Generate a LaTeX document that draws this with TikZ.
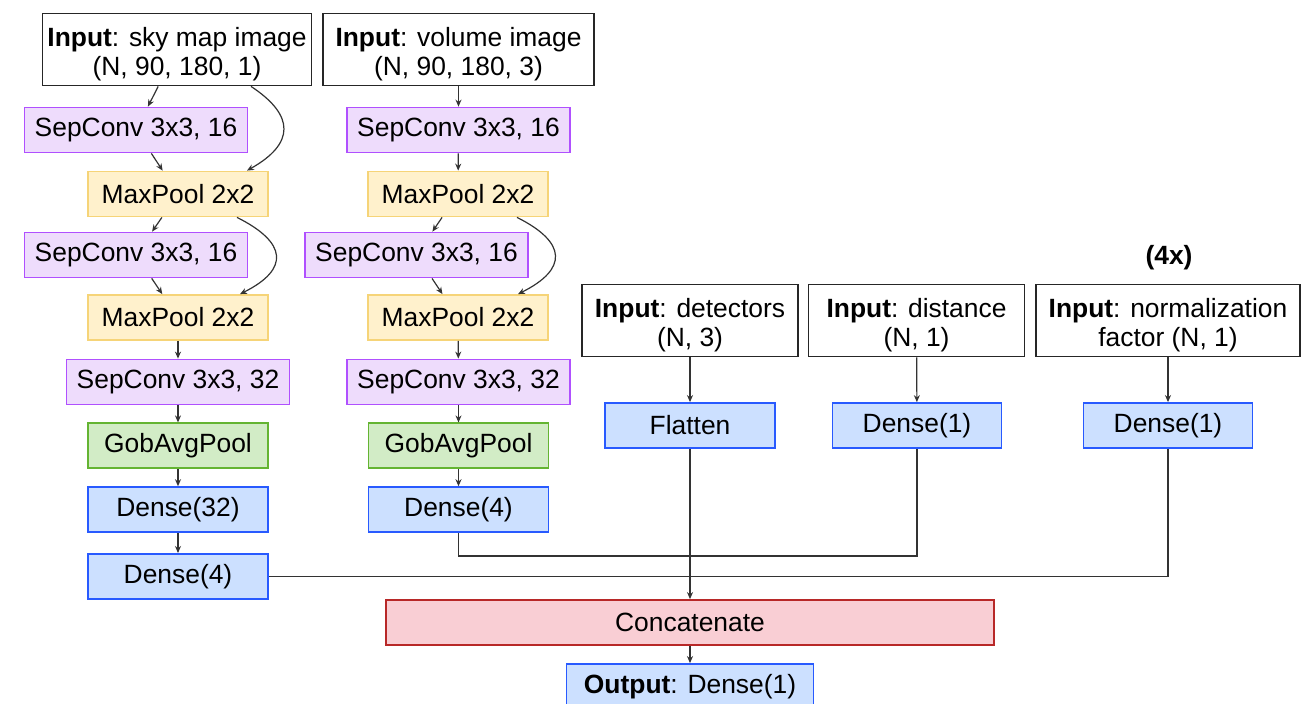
\documentclass[tikz,border=0pt]{standalone}
\usepackage{fontspec}
\setmainfont{Liberation Sans}
\usetikzlibrary{positioning,calc,arrows.meta}

\definecolor{convfill}{RGB}{238,220,252}
\definecolor{convline}{RGB}{176,80,255}
\definecolor{poolfill}{RGB}{255,241,204}
\definecolor{poolline}{RGB}{246,212,120}
\definecolor{gapfill}{RGB}{210,236,198}
\definecolor{gapline}{RGB}{100,180,50}
\definecolor{densefill}{RGB}{204,224,255}
\definecolor{denseline}{RGB}{40,90,255}
\definecolor{catfill}{RGB}{249,206,212}
\definecolor{catline}{RGB}{184,40,40}

\begin{document}
\begin{tikzpicture}[
    x=0.5pt, y=-0.5pt,
    node distance=8.5pt,
    layer/.style={rectangle, draw, line width=0.9pt, inner sep=0pt, minimum height=22.5pt, align=center, font=\fontsize{13.2}{14.5}\selectfont},
    inbox/.style={layer, fill=white, draw=black!85, minimum height=36pt},
    sepconv/.style={layer, fill=convfill, draw=convline, minimum width=111.5pt},
    maxpool/.style={layer, fill=poolfill, draw=poolline, minimum width=90pt},
    avgpool/.style={layer, fill=gapfill, draw=gapline, minimum width=90pt},
    dense/.style={layer, fill=densefill, draw=denseline, minimum width=90pt},
    concat/.style={layer, fill=catfill, draw=catline, minimum width=304pt},
    arrow/.style={-{Stealth[length=3.5pt,width=3pt]}, line width=0.6pt, black!80},
    link/.style={line width=0.6pt, black!80}
]
    \path[use as bounding box, fill=white] (0,0) rectangle (1312,703);

    % sky map branch
    \node[inbox, minimum width=134.5pt] (sky) at (177,49.5) {\rule{0pt}{14pt}\textbf{Input}: sky map image\\(N, 90, 180, 1)};
    \node[sepconv] (skyc1) at (136,130) {SepConv 3x3, 16};
    \node[maxpool] (skyp1) at (178,194) {MaxPool 2x2};
    \node[sepconv] (skyc2) at (136,255) {SepConv 3x3, 16};
    \node[maxpool] (skyp2) at (178,317.5) {MaxPool 2x2};
    \node[sepconv] (skyc3) at (178,382) {SepConv 3x3, 32};
    \node[avgpool, below=of skyc3] (skygap) {GobAvgPool};
    \node[dense, below=of skygap] (skyd1) {Dense(32)};
    \node[dense, below=10pt of skyd1] (skyd2) {Dense(4)};

    % volume branch
    \node[inbox, minimum width=135.5pt] (vol) at (458.5,49.5) {\rule{0pt}{14pt}\textbf{Input}: volume image\\(N, 90, 180, 3)};
    \node[sepconv] (volc1) at (458.5,130) {SepConv 3x3, 16};
    \node[maxpool] (volp1) at (458,194) {MaxPool 2x2};
    \node[sepconv] (volc2) at (416.5,255) {SepConv 3x3, 16};
    \node[maxpool] (volp2) at (458,317.5) {MaxPool 2x2};
    \node[sepconv] (volc3) at (458.5,382) {SepConv 3x3, 32};
    \node[avgpool, below=of volc3] (volgap) {GobAvgPool};
    \node[dense, below=of volgap] (vold) {Dense(4)};

    % scalar inputs
    \node[font=\fontsize{13.2}{14.5}\selectfont\bfseries] (rep) at (1169,258) {(4x)};
    \node[inbox, minimum width=108pt] (det) at (690,320.5) {\rule{0pt}{14pt}\textbf{Input}: detectors\\(N, 3)};
    \node[inbox, minimum width=108pt] (dist) at (916.5,320.5) {\rule{0pt}{14pt}\textbf{Input}: distance\\(N, 1)};
    \node[inbox, minimum width=132pt] (norm) at (1168,320.5) {\rule{0pt}{14pt}\textbf{Input}: normalization\\factor (N, 1)};
    \node[dense, minimum width=85pt] (flat) at (690,425.5) {Flatten};
    \node[dense, minimum width=84.5pt] (distd) at (917,425.5) {Dense(1)};
    \node[dense, minimum width=84.5pt] (normd) at (1168,425.5) {Dense(1)};

    % head
    \node[concat] (cat) at (690,622.5) {Concatenate};
    \node[dense, minimum width=123.5pt, minimum height=23pt] (out) at (690,687) {\textbf{Output}: Dense(1)};
    \coordinate (busA) at (690,556);

    \draw[arrow] (sky) -- (skyc1);
    \draw[arrow] ($(sky.south)+(74,0)$) .. controls +(44,29) and +(48,-27) .. ($(skyp1.north)+(69,0)$);
    \draw[arrow] (skyc1) -- (skyp1);
    \draw[arrow] (skyp1) -- (skyc2);
    \draw[arrow] ($(skyp1.south)+(59,0)$) .. controls +(50,25) and +(50,-25) .. ($(skyp2.north)+(62,0)$);
    \draw[arrow] (skyc2) -- (skyp2);
    \draw[arrow] (skyp2) -- (skyc3);
    \draw[arrow] (skyc3) -- (skygap);
    \draw[arrow] (skygap) -- (skyd1);
    \draw[arrow] (skyd1) -- (skyd2);

    \draw[arrow] (vol) -- (volc1);
    \draw[arrow] (volc1) -- (volp1);
    \draw[arrow] (volp1) -- (volc2);
    \draw[arrow] ($(volp1.south)+(59,0)$) .. controls +(50,25) and +(50,-25) .. ($(volp2.north)+(60,0)$);
    \draw[arrow] (volc2) -- (volp2);
    \draw[arrow] (volp2) -- (volc3);
    \draw[arrow] (volc3) -- (volgap);
    \draw[arrow] (volgap) -- (vold);

    \draw[arrow] (det) -- (flat);
    \draw[arrow] (dist) -- (distd);
    \draw[arrow] (norm) -- (normd);

    \draw[link] (vold.south) |- (busA) -| (distd.south);
    \draw[link] (skyd2.east) -| (normd.south);
    \draw[arrow] (flat) -- (cat);
    \draw[arrow] (cat) -- (out);
\end{tikzpicture}
\end{document}
